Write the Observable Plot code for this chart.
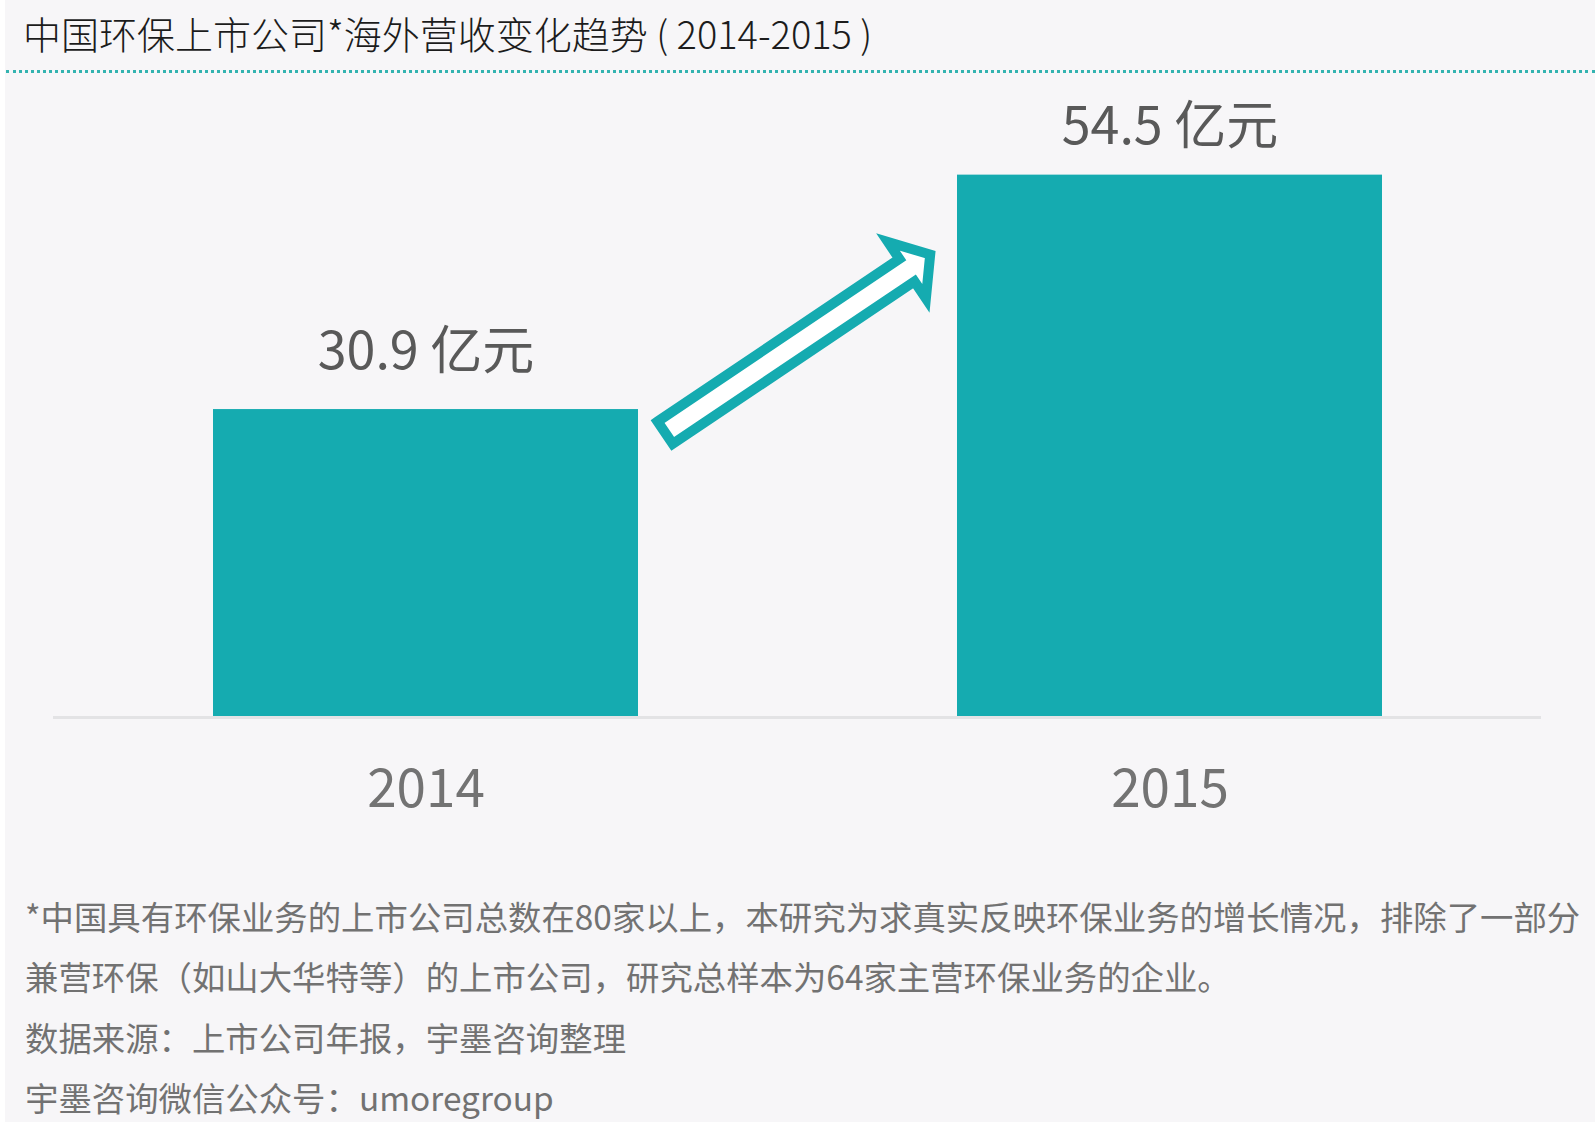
<!DOCTYPE html>
<html>
<head>
<meta charset="utf-8">
<script src="https://cdn.jsdelivr.net/npm/d3@7"></script>
<script src="https://cdn.jsdelivr.net/npm/@observablehq/plot@0.6"></script>
<style>
  html, body { margin: 0; padding: 0; }
  body { width: 1595px; height: 1132px; background: #f7f6f8; position: relative; overflow: hidden;
         font-family: "Noto Sans CJK SC", "Noto Sans", sans-serif; }
  #leftstrip { position: absolute; left: 0; top: 0; width: 5px; height: 1132px; background: #ffffff; }
  #bottomstrip { position: absolute; left: 0; top: 1122px; width: 1595px; height: 10px; background: #ffffff; }
  #title { position: absolute; left: 23px; top: 14px; font-size: 38px; line-height: 38px; color: #1c1c1c;
           white-space: pre; font-weight: 300; }
  #dots { position: absolute; left: 6px; right: 0; top: 70px; border-top: 3px dotted #33b3b0; }
  #chart { position: absolute; left: 0; top: 80px; }
  .note { position: absolute; left: 25px; font-size: 33.4px; line-height: 60px; color: #727272; white-space: nowrap; }
</style>
</head>
<body>
<div id="leftstrip"></div>
<div id="bottomstrip"></div>
<div id="title"></div>
<div id="dots"></div>
<div id="chart"></div>
<div id="notes"></div>
<script>
const titleText = "中国环保上市公司*海外营收变化趋势 ( 2014-2015 )";
const years = ["2014", "2015"];
const revenue = [30.9, 54.5];
const valueLabels = ["30.9 亿元", "54.5 亿元"];
const notes = [
  "*中国具有环保业务的上市公司总数在80家以上，本研究为求真实反映环保业务的增长情况，排除了一部分",
  "兼营环保（如山大华特等）的上市公司，研究总样本为64家主营环保业务的企业。",
  "数据来源：上市公司年报，宇墨咨询整理",
  "宇墨咨询微信公众号：umoregroup"
];

const data = years.map((y, i) => ({year: y, value: revenue[i], label: valueLabels[i]}));
const teal = "#15abb0";

document.getElementById("title").textContent = titleText;
const notesEl = document.getElementById("notes");
notes.forEach((t, i) => {
  const d = document.createElement("div");
  d.className = "note";
  d.style.top = (886 + i * 60.3) + "px";
  d.textContent = t;
  notesEl.appendChild(d);
});

// Outlined arrow between the two bars, anchored on the scales
function arrowMark(index, scales, values, dimensions) {
  const sx = scales.x, sy = scales.y;
  const bw = typeof sx.bandwidth === "function" ? sx.bandwidth() : sx.bandwidth;
  const x0 = sx(years[0]) + bw + 23;
  const y0 = sy(revenue[0]) + 26.4;
  const x1 = sx(years[1]) - 21;
  const y1 = sy(revenue[1]) + 76;
  const dx = x1 - x0, dy = y1 - y0;
  const L = Math.hypot(dx, dy);
  const ux = dx / L, uy = dy / L, vx = -uy, vy = ux;
  const tip = L - 7, headBase = tip - 28, hw = 13.5, hh = 34;
  const local = [[5, -hw], [headBase, -hw], [headBase, -hh], [tip, 0], [headBase, hh], [headBase, hw], [5, hw]];
  const pts = local.map(([u, v]) => [x0 + u * ux + v * vx, y0 + u * uy + v * vy]);
  const ns = "http://www.w3.org/2000/svg";
  const path = document.createElementNS(ns, "path");
  path.setAttribute("d", "M" + pts.map(p => p[0].toFixed(1) + "," + p[1].toFixed(1)).join("L") + "Z");
  path.setAttribute("fill", "#ffffff");
  path.setAttribute("stroke", teal);
  path.setAttribute("stroke-width", 10);
  path.setAttribute("stroke-linejoin", "miter");
  const g = document.createElementNS(ns, "g");
  g.appendChild(path);
  return g;
}

const chart = Plot.plot({
  width: 1595,
  height: 746,
  marginTop: 40,
  marginBottom: 110,
  marginLeft: 53,
  marginRight: 54,
  style: {background: "transparent", fontFamily: "'Noto Sans CJK SC', 'Noto Sans', sans-serif", overflow: "visible"},
  x: {domain: years, paddingInner: 0.429, paddingOuter: 0.2145, align: 0.5, axis: null},
  y: {domain: [0, 60], axis: null},
  marks: [
    Plot.ruleY([0], {stroke: "#e3e3e5", strokeWidth: 3, dy: 1}),
    Plot.barY(data, {x: "year", y: "value", fill: teal}),
    Plot.text(data.slice(0, 1), {x: "year", y: "value", text: "label", dy: -41, lineAnchor: "bottom",
      fontSize: 52, fill: "#595959", textAnchor: "middle"}),
    Plot.text(data.slice(1), {x: "year", y: "value", text: "label", dy: -31, lineAnchor: "bottom",
      fontSize: 52, fill: "#595959", textAnchor: "middle"}),
    Plot.text(years, {x: d => d, frameAnchor: "bottom", lineAnchor: "bottom", dy: 90,
      fontSize: 53, fill: "#737373", textAnchor: "middle"}),
    arrowMark
  ]
});
document.getElementById("chart").appendChild(chart);
</script>
</body>
</html>
